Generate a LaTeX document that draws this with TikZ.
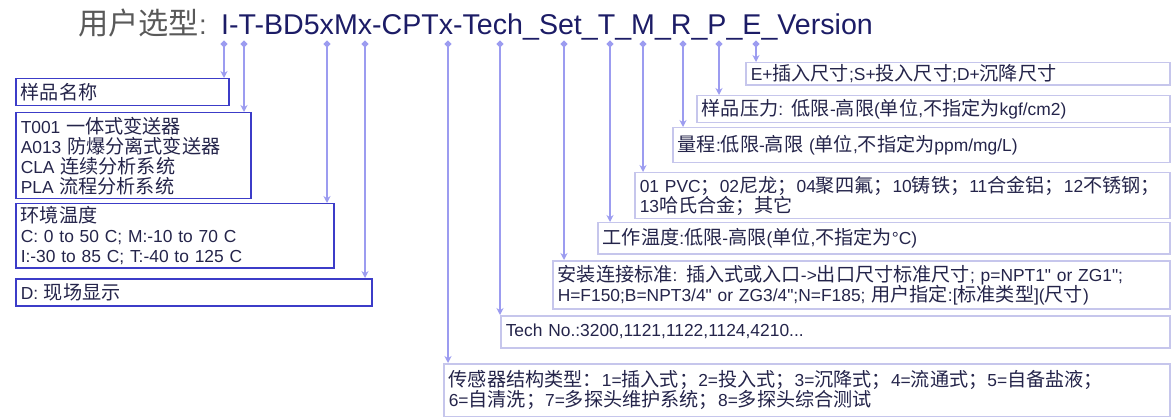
\documentclass[tikz,border=0pt]{standalone}
\usepackage{fontspec}
\setmainfont{Liberation Sans}
\newfontfamily\cjk{Noto Sans CJK SC}[Scale=1.1]
\newcommand\zh[1]{{\cjk #1}}
\newcommand\qq{\textquotedbl}
\usetikzlibrary{positioning,arrows.meta}
\definecolor{navy}{HTML}{1C1C66}
\definecolor{txt}{HTML}{24244A}
\definecolor{linkc}{HTML}{9C9CF0}
\definecolor{darkframe}{HTML}{3C3CC8}
\definecolor{lightframe}{HTML}{C6C6EC}

\begin{document}
\begin{tikzpicture}[x=1pt,y=-1pt,
  box/.style={rectangle,anchor=north west,align=left,inner xsep=5pt,inner ysep=2pt,
    text=txt,font=\fontsize{17.4}{20}\selectfont,line width=1.5pt},
  leftbox/.style={box,draw=darkframe},
  rightbox/.style={box,draw=lightframe},
  link/.style={draw=linkc,line width=2.8pt,{Circle[length=6pt]}-{Stealth[length=7pt,width=7pt]}}]
\useasboundingbox (0,0) rectangle (1171,417);
% title
\node[anchor=base west,inner sep=0,text=navy,font=\fontsize{28.6}{30}\selectfont] (title) at (221,35) {I-T-BD5xMx-CPTx-Tech\_Set\_T\_M\_R\_P\_E\_Version};
\node[anchor=base east,inner sep=0,text=black!65,font=\fontsize{27.5}{30}\selectfont] (titlezh) at ([xshift=-14pt]title.base west) {\zh{用户选型}:};
% left boxes
\node[leftbox,text width=203pt,minimum height=27pt] (name) at (15,78) {\zh{样品名称}};
\node[leftbox,text width=225pt,minimum height=86pt] (model) at (15,112) {T001 \zh{一体式变送器}\\A013 \zh{防爆分离式变送器}\\CLA \zh{连续分析系统}\\PLA \zh{流程分析系统}};
\node[leftbox,text width=308pt,minimum height=64pt] (ambient) at (15,203) {\zh{环境温度}\\C: 0 to 50 C; M:-10 to 70 C\\I:-30 to 85 C; T:-40 to 125 C};
\node[leftbox,text width=346pt,minimum height=27pt] (display) at (15,278) {D: \zh{现场显示}};
% right boxes
\node[rightbox,text width=414pt,minimum height=22pt] (size) at (745,62) {E+\zh{插入尺寸};S+\zh{投入尺寸};D+\zh{沉降尺寸}};
\node[rightbox,text width=463pt,minimum height=27pt] (pressure) at (696,95) {\zh{样品压力}: \zh{低限}-\zh{高限}(\zh{单位},\zh{不指定为}kgf/cm2)};
\node[rightbox,text width=487pt,minimum height=35pt] (range) at (672,127) {\zh{量程}:\zh{低限}-\zh{高限} (\zh{单位},\zh{不指定为}ppm/mg/L)};
\node[rightbox,text width=525pt,minimum height=46pt] (material) at (634,172) {01 PVC\zh{；}02\zh{尼龙；}04\zh{聚四氟；}10\zh{铸铁；}11\zh{合金铝；}12\zh{不锈钢；}\\13\zh{哈氏合金；其它}};
\node[rightbox,text width=562pt,minimum height=31pt] (worktemp) at (597,222) {\zh{工作温度}:\zh{低限}-\zh{高限}(\zh{单位},\zh{不指定为}°C)};
\node[rightbox,text width=607pt,minimum height=48pt] (conn) at (552,260) {\zh{安装连接标准}: \zh{插入式或入口}->\zh{出口尺寸标准尺寸}; p=NPT1\qq{} or ZG1\qq;\\H=F150;B=NPT3/4\qq{} or ZG3/4\qq;N=F185; \zh{用户指定}:[\zh{标准类型}](\zh{尺寸})};
\node[rightbox,text width=659pt,minimum height=32pt] (tech) at (500,315) {Tech No.:3200,1121,1122,1124,4210...};
\node[rightbox,text width=716pt,minimum height=53pt] (sensor) at (443,363) {\zh{传感器结构类型：}1=\zh{插入式；}2=\zh{投入式；}3=\zh{沉降式；}4=\zh{流通式；}5=\zh{自备盐液；}\\6=\zh{自清洗；}7=\zh{多探头维护系统；}8=\zh{多探头综合测试}};
% taps under the title letters
\coordinate (tI) at (224,41);
\coordinate (tT) at (244,41);
\coordinate (tB) at (327,41);
\coordinate (tM) at (365,41);
\coordinate (tC) at (448,41);
\coordinate (tTech) at (500,41);
\coordinate (tSet) at (564,41);
\coordinate (tTT) at (610,41);
\coordinate (tMM) at (643,41);
\coordinate (tR) at (683,41);
\coordinate (tP) at (719,41);
\coordinate (tE) at (756,41);
\draw[link] (tI) -- (tI |- name.north);
\draw[link] (tT) -- (tT |- model.north);
\draw[link] (tB) -- (tB |- ambient.north);
\draw[link] (tM) -- (tM |- display.north);
\draw[link] (tC) -- (tC |- sensor.north);
\draw[link] (tTech) -- (tTech |- tech.north);
\draw[link] (tSet) -- (tSet |- conn.north);
\draw[link] (tTT) -- (tTT |- worktemp.north);
\draw[link] (tMM) -- (tMM |- material.north);
\draw[link] (tR) -- (tR |- range.north);
\draw[link] (tP) -- (tP |- pressure.north);
\draw[link] (tE) -- (tE |- size.north);
\end{tikzpicture}
\end{document}
